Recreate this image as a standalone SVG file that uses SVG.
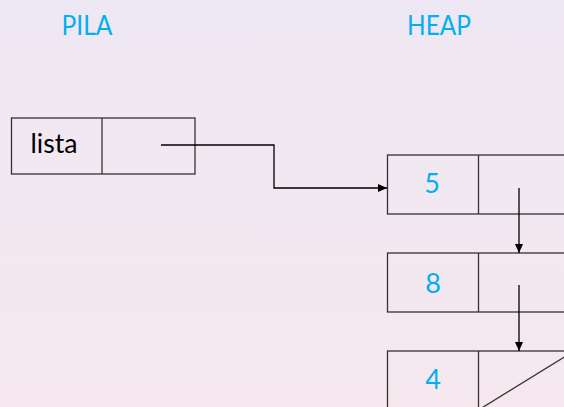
<svg xmlns="http://www.w3.org/2000/svg" width="564" height="407" viewBox="0 0 564 407">
<defs>
<linearGradient id="bg" x1="0" y1="0" x2="0" y2="1">
<stop offset="0" stop-color="#EEE8F4"/>
<stop offset="1" stop-color="#F6E8EE"/>
</linearGradient>
<marker id="arr" markerWidth="10" markerHeight="8" refX="9" refY="4" orient="auto" markerUnits="userSpaceOnUse">
<path d="M0,0 L9,4 L0,8 Z" fill="#000"/>
</marker>
<style>
.cell{fill:none;stroke:#333;stroke-width:1.3}
.lbl{font-family:Lato,"Open Sans","Liberation Sans",sans-serif;font-size:27px;fill:#00B0F0;text-anchor:middle}
.txt{font-family:Lato,"Open Sans","Liberation Sans",sans-serif;font-size:27px;fill:#000;text-anchor:middle}
.conn{fill:none;stroke:#000;stroke-width:1.3}
</style>
</defs>
<rect width="564" height="407" fill="url(#bg)"/>
<text class="lbl" x="87" y="35" textLength="51" lengthAdjust="spacingAndGlyphs">PILA</text>
<text class="lbl" x="439" y="35" textLength="64" lengthAdjust="spacingAndGlyphs">HEAP</text>
<g id="lista">
<rect class="cell" x="11.5" y="118" width="183.5" height="56"/>
<line class="cell" x1="102" y1="118" x2="102" y2="174"/>
<text class="txt" x="54" y="153" textLength="47" lengthAdjust="spacingAndGlyphs">lista</text>
</g>
<g id="node5">
<rect class="cell" x="387.5" y="155" width="185" height="59"/>
<line class="cell" x1="478.5" y1="155" x2="478.5" y2="214"/>
<text class="lbl" x="432" y="193">5</text>
</g>
<g id="node8">
<rect class="cell" x="387.5" y="253" width="185" height="59"/>
<line class="cell" x1="478.5" y1="253" x2="478.5" y2="312"/>
<text class="lbl" x="433" y="293">8</text>
</g>
<g id="node4">
<rect class="cell" x="387.5" y="351" width="185" height="59"/>
<line class="cell" x1="478.5" y1="351" x2="478.5" y2="410"/>
<line class="cell" x1="478.5" y1="410" x2="572.5" y2="352"/>
<text class="lbl" x="433" y="389">4</text>
</g>
<g id="connectors">
<polyline class="conn" points="161,145 274,145 274,188 387,188" marker-end="url(#arr)"/>
<line class="conn" x1="519" y1="188" x2="519" y2="253" marker-end="url(#arr)"/>
<line class="conn" x1="519" y1="285" x2="519" y2="351" marker-end="url(#arr)"/>
</g>
</svg>
